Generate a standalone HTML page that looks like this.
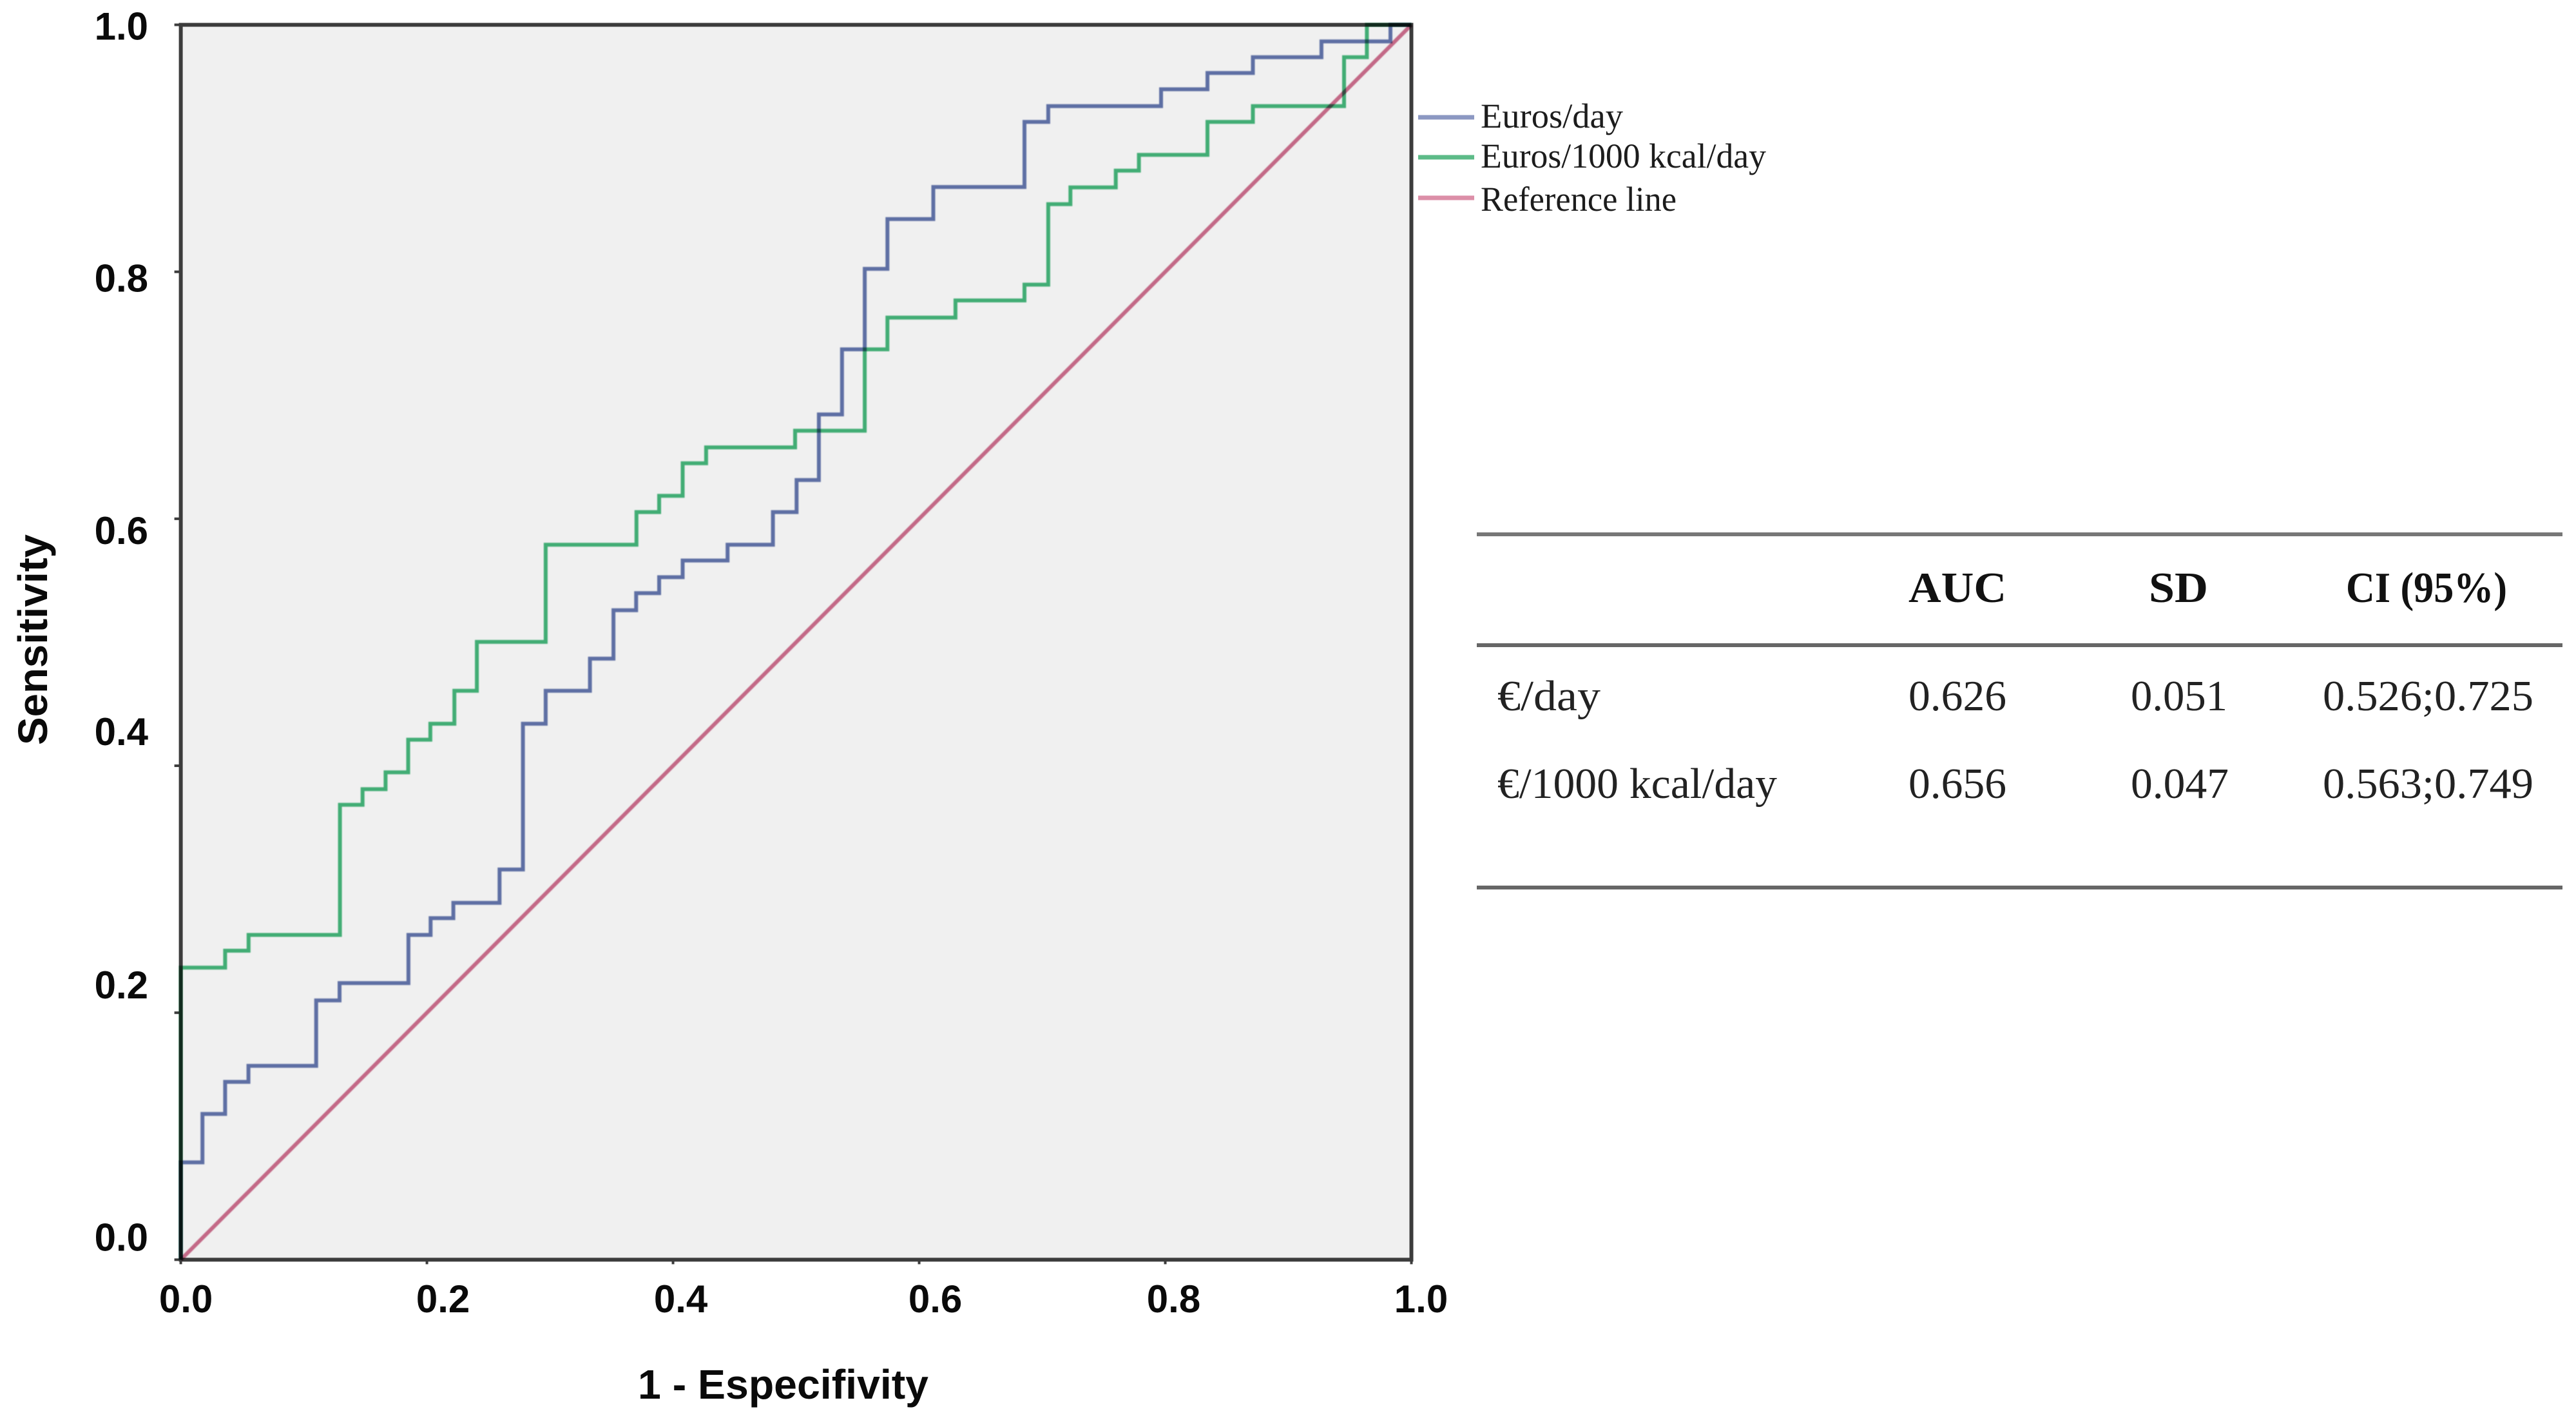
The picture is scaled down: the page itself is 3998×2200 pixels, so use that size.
<!DOCTYPE html>
<html lang="en">
<head>
<meta charset="utf-8">
<title>ROC curves: Euros/day and Euros/1000 kcal/day</title>
<style>
  html, body { margin: 0; padding: 0; background: #fff; }
  body { width: 3998px; height: 2200px; overflow: hidden; }
  svg { display: block; }
  .tick { font: bold 60px "Liberation Sans", sans-serif; fill: #0a0a0a; }
  .title { font: bold 64px "Liberation Sans", sans-serif; fill: #0a0a0a; }
  .legend { font: 54px "Liberation Serif", serif; fill: #1c1c1c; }
  .cell { font: 67px "Liberation Serif", serif; fill: #222; }
  .head { font: bold 67px "Liberation Serif", serif; fill: #111; }
  .series { mix-blend-mode: multiply; filter: blur(0.8px); }
</style>
</head>
<body>
<svg id="figure" xmlns="http://www.w3.org/2000/svg" width="3998" height="2200" viewBox="0 0 3998 2200">
  <rect x="0" y="0" width="3998" height="2200" fill="#ffffff"/>
  <g id="plot"></g>

  <text class="title" x="990" y="2170" textLength="451" lengthAdjust="spacingAndGlyphs">1 - Especifivity</text>
  <text class="title" transform="translate(73 1156) rotate(-90)" textLength="327" lengthAdjust="spacingAndGlyphs">Sensitivity</text>

  <g>
    <line x1="2201" y1="182" x2="2288" y2="182" stroke="#8c98c2" stroke-width="7"/>
    <text class="legend" x="2298" y="198" textLength="221" lengthAdjust="spacingAndGlyphs">Euros/day</text>
    <line x1="2201" y1="244" x2="2288" y2="244" stroke="#5dbb88" stroke-width="7"/>
    <text class="legend" x="2298" y="260" textLength="443" lengthAdjust="spacingAndGlyphs">Euros/1000 kcal/day</text>
    <line x1="2201" y1="307" x2="2288" y2="307" stroke="#dc8fa8" stroke-width="7"/>
    <text class="legend" x="2298" y="327" textLength="304" lengthAdjust="spacingAndGlyphs">Reference line</text>
  </g>

  <g>
    <rect x="2292" y="826" width="1685" height="6" fill="#777777"/>
    <rect x="2292" y="998" width="1685" height="6" fill="#666666"/>
    <rect x="2292" y="1374" width="1685" height="6" fill="#666666"/>

    <text class="head" x="2962" y="934" textLength="152" lengthAdjust="spacingAndGlyphs">AUC</text>
    <text class="head" x="3335" y="934" textLength="92" lengthAdjust="spacingAndGlyphs">SD</text>
    <text class="head" x="3641" y="934" textLength="250" lengthAdjust="spacingAndGlyphs">CI (95%)</text>

    <text class="cell" x="2324" y="1102" textLength="160" lengthAdjust="spacingAndGlyphs">€/day</text>
    <text class="cell" x="2962" y="1102" textLength="152" lengthAdjust="spacingAndGlyphs">0.626</text>
    <text class="cell" x="3307" y="1102" textLength="150" lengthAdjust="spacingAndGlyphs">0.051</text>
    <text class="cell" x="3605" y="1102" textLength="327" lengthAdjust="spacingAndGlyphs">0.526;0.725</text>

    <text class="cell" x="2324" y="1238" textLength="434" lengthAdjust="spacingAndGlyphs">€/1000 kcal/day</text>
    <text class="cell" x="2962" y="1238" textLength="152" lengthAdjust="spacingAndGlyphs">0.656</text>
    <text class="cell" x="3307" y="1238" textLength="152" lengthAdjust="spacingAndGlyphs">0.047</text>
    <text class="cell" x="3605" y="1238" textLength="327" lengthAdjust="spacingAndGlyphs">0.563;0.749</text>
  </g>
</svg>

<script>
// ---- chart data ----
const xTickValues = [0, 0.2, 0.4, 0.6, 0.8, 1];
const yTickValues = [0, 0.2, 0.4, 0.6, 0.8, 1];
const xTickLabels = ['0.0', '0.2', '0.4', '0.6', '0.8', '1.0'];
const yTickLabels = ['0.0', '0.2', '0.4', '0.6', '0.8', '1.0'];

const eurosDayFpr = [0, 0, 0.0176, 0.036, 0.055, 0.110, 0.129, 0.185, 0.203, 0.2215, 0.259, 0.278, 0.2965, 0.3325, 0.3516, 0.370, 0.3887, 0.4078, 0.4443, 0.4812, 0.5004, 0.5185, 0.5373, 0.5558, 0.5742, 0.6115, 0.6856, 0.7049, 0.7966, 0.8343, 0.8712, 0.9269, 0.983, 1];
const eurosDayTpr = [0, 0.0788, 0.118, 0.144, 0.157, 0.21, 0.224, 0.263, 0.2766, 0.289, 0.316, 0.434, 0.4607, 0.4867, 0.5259, 0.5398, 0.5527, 0.5662, 0.579, 0.6054, 0.6314, 0.6845, 0.7372, 0.8024, 0.8427, 0.8687, 0.9214, 0.9342, 0.9478, 0.961, 0.9738, 0.9866, 1, 1];

const eurosKcalFpr = [0, 0, 0.036, 0.0551, 0.1293, 0.1477, 0.1664, 0.1848, 0.2028, 0.2223, 0.2406, 0.2965, 0.3703, 0.3887, 0.4078, 0.4269, 0.4992, 0.5558, 0.5742, 0.6295, 0.6856, 0.7049, 0.7229, 0.7598, 0.7786, 0.8343, 0.8712, 0.9453, 0.9638, 1];
const eurosKcalTpr = [0, 0.2365, 0.2502, 0.263, 0.3684, 0.381, 0.3947, 0.4211, 0.434, 0.4607, 0.5003, 0.579, 0.6054, 0.6186, 0.6449, 0.6578, 0.6713, 0.7372, 0.7629, 0.7768, 0.7896, 0.8548, 0.8683, 0.8819, 0.8947, 0.9214, 0.9342, 0.9738, 1, 1];

const referenceFpr = [0, 1];
const referenceTpr = [0, 1];

// ---- layout ----
const plotLeft = 280.6, plotRight = 2190.5, plotTop = 38.5, plotBottom = 1954.4;
// hand-placed label nudges in the original figure (pixels, layout only)
const xLabelNudge = [8, 25, 12, 25, 13, 15];
const yLabelNudge = [-14, -22, -32, 39, 31, 23];

function xScale(v) { return plotLeft + v * (plotRight - plotLeft); }
function yScale(v) { return plotBottom - v * (plotBottom - plotTop); }

const SVG_NS = 'http://www.w3.org/2000/svg';
const plot = document.getElementById('plot');

function make(tag, attrs, parent) {
  const el = document.createElementNS(SVG_NS, tag);
  for (const k in attrs) el.setAttribute(k, attrs[k]);
  (parent || plot).appendChild(el);
  return el;
}

function stepPath(xs, ys) {
  let d = 'M' + xScale(xs[0]).toFixed(1) + ' ' + yScale(ys[0]).toFixed(1);
  for (let i = 1; i < xs.length; i++) {
    d += 'H' + xScale(xs[i]).toFixed(1) + 'V' + yScale(ys[i]).toFixed(1);
  }
  return d;
}

// plot background
const bg = make('rect', { x: plotLeft, y: plotTop, width: plotRight - plotLeft, height: plotBottom - plotTop, fill: '#f0f0f0' });



// axes frame
const frame = make('rect', { x: plotLeft, y: plotTop, width: plotRight - plotLeft, height: plotBottom - plotTop, fill: 'none', stroke: '#3c3c3c', 'stroke-width': 6 });



// ticks and tick labels
xTickValues.forEach(function (v, i) {
  const tick = make('line', { x1: xScale(v), x2: xScale(v), y1: plotBottom, y2: plotBottom + 7, stroke: '#3c3c3c', 'stroke-width': 4 });
  
  
  const label = make('text', { class: 'tick', x: xScale(v) + xLabelNudge[i], y: 2036, 'text-anchor': 'middle' });
  label.textContent = xTickLabels[i];
  
  
});
yTickValues.forEach(function (v, i) {
  const tick = make('line', { x1: plotLeft - 10, x2: plotLeft, y1: yScale(v), y2: yScale(v), stroke: '#3c3c3c', 'stroke-width': 4 });
  
  
  const label = make('text', { class: 'tick', x: 230, y: yScale(v) + yLabelNudge[i], 'text-anchor': 'end' });
  label.textContent = yTickLabels[i];
  
  
});

// series
const refLine = make('path', { class: 'series', d: 'M' + xScale(referenceFpr[0]) + ' ' + yScale(referenceTpr[0]) + 'L' + xScale(referenceFpr[1]) + ' ' + yScale(referenceTpr[1]), fill: 'none', stroke: '#d0708f', 'stroke-width': 6 });



const kcalLine = make('path', { class: 'series', d: stepPath(eurosKcalFpr, eurosKcalTpr), fill: 'none', stroke: '#46b87c', 'stroke-width': 6 });



const dayLine = make('path', { class: 'series', d: stepPath(eurosDayFpr, eurosDayTpr), fill: 'none', stroke: '#6476ae', 'stroke-width': 6 });


</script>
</body>
</html>
